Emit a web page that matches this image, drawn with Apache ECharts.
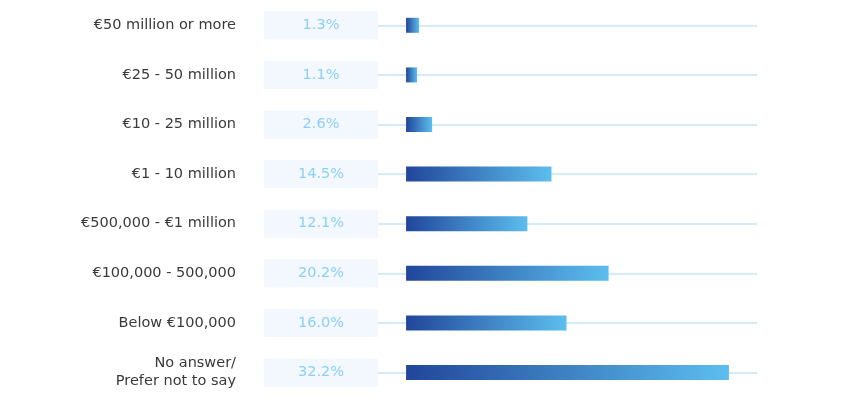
<!DOCTYPE html>
<html><head><meta charset="utf-8">
<script src="https://cdn.jsdelivr.net/npm/echarts@6/dist/echarts.min.js"></script>
<style>html,body{margin:0;padding:0;background:#fff}#c{width:867px;height:416px}</style>
</head><body><div id="c"></div>
<script>
var categories = ["€50 million or more","€25 - 50 million","€10 - 25 million","€1 - 10 million","€500,000 - €1 million","€100,000 - 500,000","Below €100,000","No answer/\nPrefer not to say"];
var values = [1.3, 1.1, 2.6, 14.5, 12.1, 20.2, 16.0, 32.2];
var trackStart = -2.8;
var trackEnd = 35;

var chart = echarts.init(document.getElementById('c'));
var lineData = categories.map(function(c){ return [{coord:[trackStart, c]}, {coord:[trackEnd, c]}]; });
chart.setOption({
  animation:false,
  grid:{left:378, right:110, top:0.5, bottom:18.7},
  xAxis:{type:'value', min:trackStart, max:trackEnd, show:false},
  yAxis:[{
    type:'category', data:categories, inverse:true,
    axisLine:{show:false}, axisTick:{show:false},
    axisLabel:{margin:142, color:'#3a3a3a', fontSize:14.5, fontFamily:'DejaVu Sans', lineHeight:18, align:'right', padding:[2,0,0,0]}
  },{
    type:'category', data:categories, inverse:true, position:'left',
    axisLine:{show:false}, axisTick:{show:false},
    axisLabel:{margin:0, formatter:function(v, i){ return '{b|' + values[i].toFixed(1) + '%}'; },
      rich:{b:{width:114, height:28, align:'center', verticalAlign:'middle', backgroundColor:'#f3f8fe', color:'#8ccff4', fontSize:14.5, fontFamily:'DejaVu Sans'}}}
  }],
  series:[{
    type:'bar', data:values, barWidth:15, yAxisIndex:0,
    itemStyle:{color:new echarts.graphic.LinearGradient(0,0,1,0,[{offset:0,color:'#21469a'},{offset:1,color:'#5cbeee'}])},
    markLine:{silent:true, z:1, symbol:['none','circle'], symbolSize:[0,5], label:{show:false},
      lineStyle:{color:'#c9e4f8', width:1.5, type:'solid'}, data:lineData},
    z:3
  }]
});
</script></body></html>
